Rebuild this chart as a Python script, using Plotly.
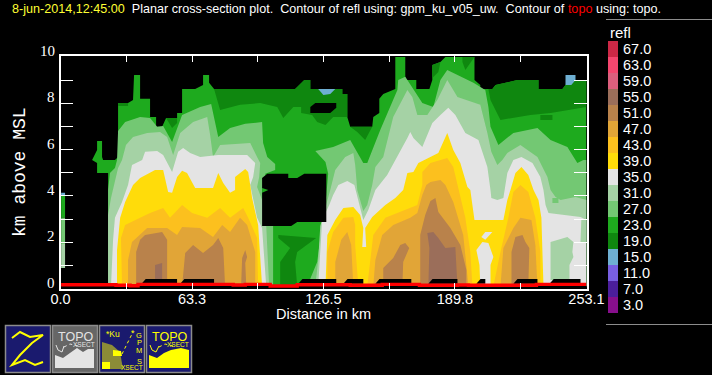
import plotly.graph_objects as go

W, H = 712, 375
LEVELS = ["3.0","7.0","11.0","15.0","19.0","23.0","27.0","31.0","35.0","39.0","43.0","47.0","51.0","55.0","59.0","63.0","67.0"]
COLORS = ["#870F8C","#4B1E9B","#785FE1","#6EAFD2","#0F870F","#1EAA1E","#73C873","#A5D2A5","#E4E4E4","#FFDC0A","#FCC01E","#E1A537","#B9824B","#9B6E5A","#DC5F7D","#F5466E","#CD2846"]
C = dict(zip(LEVELS, COLORS))
BLACK = "#000000"

# contour outlines of refl: distance (km), height (km MSL)
env_d = [22.9,22.9,17.6,17.6,15.2,17.6,17.6,20,20,20.5,26.2,27.7,27.7,32.5,34.9,35.4,38.3,38.3,43.1,43.1,46,46,48.9,50.8,56.1,56.1,58.5,58.5,64.8,68.6,68.6,71.5,71.5,73.9,112.9,117.3,120.2,120.2,135.6,135.6,138,138,139.4,150,150.5,153.4,153.4,155.3,161.1,161.1,165.9,165.9,171.2,171.2,177.5,178.9,178.9,182.8,185.2,199.2,199.2,202,202,207.8,209.3,219.8,230,230,241.5,243,246.8,253.1,253.1]
env_h = [0.1,4.99,4.99,5.42,5.55,5.98,6.37,6.37,5.68,5.55,5.55,5.68,8.01,8.01,8.14,9.22,9.22,8.19,8.19,7.41,7.41,6.98,6.98,7.36,7.36,7.58,7.58,8.62,8.62,8.79,9.22,9.22,8.88,8.62,8.62,9,9,8.62,8.62,8.4,8.4,7.41,6.98,6.98,7.41,7.58,8.19,8.4,8.62,10,10,9,9,8.62,8.62,9,9.65,9.78,10,10,9,8.79,8.62,8.62,8.79,9,9,8.62,8.62,8.79,9,9,0.1]

d19a_d = [73.9,112.9,117.3,120.2,120.2,135.6,135.6,138,138,131.2,127.5,123.5,121.1,115.8,115.8,112,107.2,104.3,96.1,86.4,76.8]
d19a_h = [8.62,8.62,9,9,8.62,8.62,8.4,8.4,7.41,7.41,7.06,7.19,7.49,7.58,7.84,7.84,7.36,7.84,8.01,7.93,7.71]
d19b_d = [139.4,150,146.6,142.8]
d19b_h = [6.98,6.98,6.41,6.76]
d19c_d = [50.8,56.1,56.1,53.7]
d19c_h = [7.36,7.36,7.15,6.93]
d19d_d = [27.7,32.5,32.5,27.7]
d19d_h = [8.01,8.01,7.88,7.88]
d19e_d = [178.9,182.8,181.8,178.9]
d19e_h = [9.65,9.78,9.35,9.09]
d19f_d = [193.4,199.2,194.8,193.4]
d19f_h = [10,10,9.44,9.78]
d19g_d = [205.9,207.8,209.3,219.8,230,230,241.5,243,246.8,253.1,253.1,235.8,226.1,211.7,206.9]
d19g_h = [8.62,8.62,8.79,9,9,8.62,8.62,8.79,9,9,7.84,7.58,7.49,7.28,8.14]
d19h_d = [230.9,236.7,236.7,230.9]
d19h_h = [7.49,7.49,7.28,7.28]
d19i_d = [104.8,123,113.9,112.9,113.9,105.7,105.7,110.5,104.8]
d19i_h = [2.31,2.18,1.58,1.14,0.1,0.1,1.14,1.75,2.18]

d15a_d = [124,132.2,129.8,126.5]
d15a_h = [8.62,8.62,8.4,8.36]
d15b_d = [243,247.8,247.8,245.8,243]
d15b_h = [9.22,9.22,9,8.79,8.79]

d27_d = [22.9,22.9,23.8,26.2,27.2,27.7,31.1,38.3,43.1,46.5,49.4,53.7,58.5,67.2,72.5,73.4,75.9,81.6,88.9,97,97.5,99.5,103.3,103.3,98.5,102.3,102.3,118.7,123.5,125.9,127.9,128.8,127.5,122.6,131.2,139.4,145.7,147.6,153.9,162.1,162.5,165.9,169.8,174.1,179.4,182.8,186.1,191,198.7,204.4,205.9,206.9,210.7,217.9,229.5,235.8,243.9,248.7,251.6,253.1,253.1]
d27_h = [0.1,4.25,4.99,5.2,5.55,6.8,7.19,7.41,7.36,6.98,7.02,6.33,7.49,7.84,7.97,7.58,6.54,6.93,7.11,7.19,6.28,5.68,5.38,5.12,4.95,2.7,0.1,0.1,1.14,2.74,4.04,4.95,5.46,5.94,6.11,6.41,5.42,5.42,6.85,8.57,9,9.14,8.62,8.01,7.84,9,9.44,9.22,8.88,8.57,7.84,6.98,6.2,6.72,6.93,6.41,6.11,5.42,5.55,5.55,0.1]

d31a_d = [22.9,22.9,24.3,26.2,27.7,29.6,31.5,34.9,41.7,47.9,51.3,54.2,57.6,63.8,70.6,72,73.4,76.8,91.3,94.6,96.1,95.6,94.6,97,99,100.4]
d31a_h = [0.1,3.17,3.91,4.6,5.2,5.55,6.2,6.54,6.72,6.76,6.54,5.77,6.72,7.19,7.41,6.63,5.68,6.2,6.28,5.68,5.42,4.82,4.38,3.82,2.7,0.1]
d31b_d = [122.6,124,125,127.9,129.8,132.2,137,140.9,141.8,142.8,144.7,145.7,147.6,150,151.5,155.3,160.1,166.9,169.3,171.7,176.5,181.3,186.1,191,202,205.4,207.3,210.2,212.6,215,221.3,229.5,234.3,235.8,238.2,240.6,247.8,253.1,253.1]
d31b_h = [0.1,1.23,2.7,3.61,4.25,5.12,5.68,5.85,5.33,4.25,3.61,3.35,3.61,4.47,5.25,5.68,7.41,8.57,8.27,7.49,7.49,8.14,9,8.27,7.93,6.72,5.9,5.33,5.55,5.85,6.2,5.68,4.82,4.25,3.95,3.82,3.95,3.82,0.1]
d27p_d = [236.7,239.6,239.6,236.7]
d27p_h = [3.91,3.91,3.69,3.69]

d35a_d = [24.3,25.3,26.2,29.6,32.5,34.4,39.3,40.7,46.5,49.4,53.7,56.6,59,62.4,67.2,75.9,89.8,93.7,92.7,91.3,94.6,97,99]
d35a_h = [0.1,2.1,3.05,3.74,4.47,5.33,5.55,5.9,5.94,5.77,5.03,5.9,6.07,5.85,5.68,5.77,5.77,5.42,4.82,4.47,3.05,2.61,0.1]
d35b_d = [124,125.9,129.3,131.2,133.7,138,141.4,143.3,144.7,145.7,148.1,151.5,157.2,162.1,166.9,168.3,169.8,174.1,178.9,182.8,186.6,190,194.8,201.1,205.4,206.9,207.3,210.2,213.1,215,217.9,221.8,227.1,230.9,232.4,233.4,234.8,250.2,253.1,253.1]
d35b_h = [0.1,2.96,3.61,4.04,4.47,4.64,4.47,3.82,3.3,2.96,3.39,4.25,4.9,5.68,6.5,6.76,6.5,6.11,7.15,7.49,7.8,7.49,6.72,6.41,5.25,4.25,3.91,3.82,3.91,4.99,5.55,5.68,5.42,4.82,4.25,3.61,3.26,3.09,2.96,0.1]
d31c_d = [235.8,239.1,243.9,246.8,246.3,246.8,244.9,244.9,235.8]
d31c_h = [2.01,2.1,2.22,2.01,1.58,1.36,1.02,0.37,0.37]
d31d_d = [250.6,253.1,253.1,250.2]
d31d_h = [2.96,2.96,2.01,2.01]

d39a_d = [27.2,27.2,28.7,31.1,34.9,38.3,45.5,49.4,51.8,53.7,56.1,58.5,60.9,64.8,73.4,75.9,78.3,81.6,84,84,88.9,90.3,91.3,92.2,95.1,97]
d39a_h = [0.1,1.66,3.05,3.74,4.47,4.77,5.12,5.12,4.17,4.13,4.82,5.08,4.99,4.34,4.34,4.99,4.56,4.13,4.25,4.82,5.16,5.03,4.47,3.91,2.74,0.1]
d39b_d = [127.5,128.4,132.2,136.1,140.9,144.2,145.7,146.6,150,156.3,161.1,164.9,166.9,169.8,172.2,177,181.8,186.1,189,192.4,195.8,197.2,199.2,213.1,215,216.5,218.9,221.8,225.1,227.6,230,231.4,232.4]
d39b_h = [0.1,2.31,2.96,3.48,3.52,3.17,2.61,2.61,3.09,3.61,3.91,4.25,4.99,5.03,5.42,5.64,5.85,6.72,5.98,5.42,4.38,4.25,2.96,2.96,3.82,4.25,4.99,5.25,4.9,4.25,3.82,3.05,0.1]
d35c_d = [204.4,207.8,204.4,202.5]
d35c_h = [2.44,2.44,2.1,2.22]
d35d_d = [203,205.9,208.3,206.9,206.9,202,201.6,200.1]
d35d_h = [2.01,1.97,1.36,1.02,0.1,0.1,1.02,1.66]
d35e_d = [145.7,146.6,147.1,145.2]
d35e_h = [2.61,2.61,1.79,1.79]

d43a_d = [29.6,29.1,31.1,34.4,38.3,43.1,49.4,52.7,58.5,63.3,70.6,76.8,81.6,87.9,90.3,94.6,95.1]
d43a_h = [0.1,2.18,2.74,2.87,3.05,3.26,3.48,3.05,3.61,3.26,3.05,3.48,3.05,3.48,3.05,2.18,0.1]
d43b_d = [128.4,128.4,131.2,136.1,140.9,141.8,141.8,143.3,147.6,149.1,150.5,156.3,163.5,171.7,174.1,174.1,178,186.1,189,191.4,194.8,197.2,198.2]
d43b_h = [0.1,1.58,2.44,3.05,3.09,2.74,1.88,0.1,0.1,1.23,2.31,3.05,3.3,3.61,4.47,5.03,5.42,5.64,5.25,4.38,3.05,1.58,0.1]
d43c_d = [208.3,211.7,215.5,217.9,221.3,225.1,228.5,230.9,230.9]
d43c_h = [0.1,1.58,3.05,4.17,4.47,4.17,3.05,1.58,0.1]

d47a_d = [32.5,32.5,34.4,41.7,51.3,56.1,58.5,67.2,73.4,77.8,81.6,86.4,89.8,93.7,93.7]
d47a_h = [0.1,1.23,2.01,2.61,2.61,2.31,2.66,2.61,2.22,2.74,2.44,3.05,2.74,1.58,0.1]
d47b_d = [132.2,132.2,135.1,138,139.9,140.9]
d47b_h = [0.1,1.14,2.1,2.44,1.88,0.1]
d47c_d = [150.5,151.5,154.8,160.1,168.3,171.7,174.1,176,178,182.8,185.2,189,193.8,196.3]
d47c_h = [0.1,1.23,2.31,2.74,3.05,3.26,4.04,4.47,4.6,4.69,4.47,3.74,2.31,0.1]
d47d_d = [211.7,213.1,217.9,221.3,226.6,228.5,229.5]
d47d_h = [0.1,1.75,2.61,3.05,2.96,1.88,0.1]

d51a_d = [36.4,36.4,38.3,40.7,48.9,51.3,51.3]
d51a_h = [0.1,1.58,2.1,2.31,2.44,2.1,0.1]
d51b_d = [58.5,60,63.8,68.6,73.4,75.9,78.3,79.2]
d51b_h = [0.1,1.53,1.88,1.53,1.88,2.18,1.75,0.1]
d51c_d = [86.9,87.4,88.9,89.8,88.9,89.4]
d51c_h = [0.1,1.32,1.66,1.36,1.1,0.1]
d51d_d = [155.3,155.3,160.1,163.5,165.9,167.8,164.9,164.5]
d51d_h = [0.1,0.89,1.32,1.88,1.97,1.75,1.14,0.1]
d51e_d = [173.1,173.1,175.5,178,180.4,181.8,187.6,192.4,195.3,195.3]
d51e_h = [0.1,2.31,3.17,3.78,3.91,3.3,2.61,1.88,0.8,0.1]
d51f_d = [217,217,218.9,222.3,223.7,225.6,225.1]
d51f_h = [0.1,1.58,2.22,2.31,2.01,1.75,0.1]

d55a_d = [45.5,45.5,48.9,48.9]
d55a_h = [0.1,1.02,1.1,0.1]
d55b_d = [177,177.5,176.5,179.4,181.8,185.2,190,191]
d55b_h = [0.1,1.75,2.4,2.44,2.18,1.75,1.79,0.1]

# missing-data regions
gap1_d = [97,99.5,109.6,109.6,113.9,117.3,127.9,127.9,113.9,111,97]
gap1_h = [4.77,4.95,4.95,4.77,4.77,4.95,4.95,2.87,2.87,2.7,2.7]
gap2_d = [120.2,122.6,132.7,132.7,129.8,120.2]
gap2_h = [7.84,8.01,8.01,7.8,7.58,7.58]
surface_gap_start = [39.0,57.6,114.4,136.1,151.5,177,200.1,217.9,235.3]
surface_gap_end = [56.1,73.9,132.7,145.7,168.8,191,204.4,229.5,250.2]
surface_gap_height = [0.41,0.41,0.41,0.41,0.41,0.41,0.41,0.41,0.41]
speck_d = [97,100,97]
speck_h = [4.34,4.25,4.13]

# strip at left edge
strip_level = ["15.0","23.0","27.0","31.0"]
strip_top = [4.13,4.04,3.05,1.92]
strip_bottom = [4.04,3.05,1.92,0.89]
strip_end_km = 2.2

# topography
topo_d = [0.3,26.7,33.5,37.3,83.1,88.9,100.9,113.9,139.4,154.8,172.7,191,196.3,229,253.1]
topo_h = [0.16,0.14,0.12,0.18,0.15,0.18,0.11,0.16,0.14,0.18,0.14,0.15,0.14,0.18,0.18]

x_tick_vals = [0,31.64,63.3,94.9,126.5,158.2,189.8,221.5,253.1]
x_tick_text = ["0.0","","63.3","","126.5","","189.8","","253.1"]
y_tick_vals = [1,2,3,4,5,6,7,8,9]
y_labels = [0,2,4,6,8,10]

layers = [
    ("23.0", env_d, env_h),
    ("19.0", d19a_d, d19a_h), ("19.0", d19b_d, d19b_h), ("19.0", d19c_d, d19c_h),
    ("19.0", d19d_d, d19d_h), ("19.0", d19e_d, d19e_h), ("19.0", d19f_d, d19f_h),
    ("19.0", d19g_d, d19g_h), ("19.0", d19h_d, d19h_h), ("19.0", d19i_d, d19i_h),
    ("15.0", d15a_d, d15a_h), ("15.0", d15b_d, d15b_h),
    ("27.0", d27_d, d27_h),
    ("31.0", d31a_d, d31a_h), ("31.0", d31b_d, d31b_h),
    ("27.0", d27p_d, d27p_h),
    ("35.0", d35a_d, d35a_h), ("35.0", d35b_d, d35b_h),
    ("31.0", d31c_d, d31c_h), ("31.0", d31d_d, d31d_h),
    ("39.0", d39a_d, d39a_h), ("39.0", d39b_d, d39b_h),
    ("35.0", d35c_d, d35c_h), ("35.0", d35d_d, d35d_h), ("35.0", d35e_d, d35e_h),
    ("43.0", d43a_d, d43a_h), ("43.0", d43b_d, d43b_h), ("43.0", d43c_d, d43c_h),
    ("47.0", d47a_d, d47a_h), ("47.0", d47b_d, d47b_h), ("47.0", d47c_d, d47c_h), ("47.0", d47d_d, d47d_h),
    ("51.0", d51a_d, d51a_h), ("51.0", d51b_d, d51b_h), ("51.0", d51c_d, d51c_h),
    ("51.0", d51d_d, d51d_h), ("51.0", d51e_d, d51e_h), ("51.0", d51f_d, d51f_h),
    ("55.0", d55a_d, d55a_h), ("55.0", d55b_d, d55b_h),
]

fig = go.Figure()

def poly(d, h, color):
    fig.add_trace(go.Scatter(x=list(d) + [d[0]], y=list(h) + [h[0]], mode="lines", fill="toself",
                             fillcolor=color, line=dict(width=0, color=color), hoverinfo="skip",
                             showlegend=False))

for lev, d, h in layers:
    poly(d, h, C[lev])
poly(gap1_d, gap1_h, BLACK)
poly(gap2_d, gap2_h, BLACK)
poly(speck_d, speck_h, C["23.0"])
for s, e, t in zip(surface_gap_start, surface_gap_end, surface_gap_height):
    poly([s, s + 2.0, e, e], [0.2, t, t, 0.2], BLACK)
poly([0, 253.1, 253.1, 0], [0, 0, 0.12, 0.12], BLACK)
for lev, t, b in zip(strip_level, strip_top, strip_bottom):
    poly([0.3, strip_end_km, strip_end_km, 0.3], [t, t, b, b], C[lev])

fig.add_trace(go.Scatter(x=topo_d, y=topo_h, mode="lines", line=dict(color="#FF0000", width=3.4, shape="hv"),
                         hoverinfo="skip", showlegend=False))

# colour key
fig.add_trace(go.Bar(x=[1] * len(LEVELS), y=LEVELS, orientation="h", marker=dict(color=COLORS, line=dict(width=0)),
                     width=1, xaxis="x3", yaxis="y3", hoverinfo="skip", showlegend=False))

def px(x):
    return x / W

def py(y):
    return 1 - y / H

TXT = "Liberation Sans"
fig.update_layout(
    width=W, height=H, margin=dict(l=0, r=0, t=0, b=0, pad=0, autoexpand=False), autosize=False,
    paper_bgcolor="black", plot_bgcolor="black", bargap=0, showlegend=False,
    font=dict(family=TXT, color="white", size=14),
    xaxis=dict(domain=[px(60.5), px(586.5)], range=[0, 253.1], tickmode="array", tickvals=x_tick_vals,
               ticktext=x_tick_text, ticks="inside", ticklen=6, tickcolor="white", tickwidth=1,
               showline=True, linecolor="white", linewidth=1.5, mirror="ticks", showgrid=False, zeroline=False,
               tickfont=dict(size=14.5, color="white"), ticklabelstandoff=-4, fixedrange=True),
    yaxis=dict(domain=[py(288.5), py(56)], range=[0, 10.04], tickmode="array", tickvals=y_tick_vals,
               ticktext=[""] * len(y_tick_vals), ticks="inside", ticklen=13, tickcolor="white", tickwidth=1,
               showline=True, linecolor="white", linewidth=1.5, mirror="ticks", showgrid=False, zeroline=False,
               fixedrange=True),
    xaxis3=dict(domain=[px(608), px(618)], range=[0, 1], anchor="y3", visible=False, fixedrange=True),
    yaxis3=dict(domain=[py(313), py(41)], type="category", categoryorder="array", categoryarray=LEVELS,
                tickmode="array", tickvals=LEVELS, ticktext=LEVELS,
                anchor="x3", side="right", ticks="", showline=False, showgrid=False, zeroline=False,
                tickfont=dict(size=14.5, color="white"), ticklabelstandoff=4, fixedrange=True),
)

ann = []
for v in y_labels:
    ann.append(dict(x=px(56.5), xref="paper", xanchor="right", y=v, yref="y", yshift=6, yanchor="middle",
                    text=str(v), showarrow=False, font=dict(size=15, color="white", family="Liberation Sans Narrow")))

def label(x, y, text, size, color="white", family=TXT, xanchor="center", **kw):
    ann.append(dict(x=px(x), y=py(y), xref="paper", yref="paper", xanchor=xanchor, yanchor="middle", text=text,
                    showarrow=False, font=dict(size=size, color=color, family=family), **kw))

label(10, 9, "<span style='color:#FFFF33'>8-jun-2014,12:45:00</span>  Planar cross-section plot.  Contour of refl using: gpm_ku_v05_uw.  Contour of <span style='color:#FF0000'>topo</span> using: topo.", 12.6, xanchor="left")
label(323, 314, "Distance in km", 14.5)
label(20, 172, "km above MSL", 18, family="Liberation Mono", textangle=-90)
label(608, 32, "refl", 15, xanchor="left")

shapes = []
for yy in (19.5, 324.5):
    shapes.append(dict(type="line", xref="paper", yref="paper", x0=px(606), x1=px(712), y0=py(yy), y1=py(yy),
                       line=dict(color="#8C8C8C", width=1)))

NAVY = "#1A1A6E"
YEL = "#FFFF00"

def rect(x0, x1, fill):
    shapes.append(dict(type="rect", xref="paper", yref="paper", x0=px(x0), x1=px(x1), y0=py(325.5), y1=py(372.5),
                       fillcolor=fill, line=dict(color="#8C8C8C", width=1.5)))

def path(pts, fill=None, line=None, lw=1.5, dash=None):
    s = "M " + " L ".join(f"{px(a):.5f},{py(b):.5f}" for a, b in pts)
    if fill:
        s += " Z"
    ln = dict(color=line or "rgba(0,0,0,0)", width=lw if line else 0)
    if dash:
        ln["dash"] = dash
    shapes.append(dict(type="path", xref="paper", yref="paper", path=s, fillcolor=fill or "rgba(0,0,0,0)", line=ln))

rect(5.5, 50.5, NAVY)
rect(52.5, 97.5, "#666666")
rect(99.5, 144.5, NAVY)
rect(146.5, 191.5, NAVY)
path([(12, 338), (20, 332), (30, 337), (43, 335), (32, 343), (20, 355), (12, 365), (25, 360), (35, 365), (43, 362)], line=YEL, lw=2)

mount2 = [(55, 368), (55, 355), (63, 358), (70, 353), (77, 348), (83, 352), (88, 349), (94, 349), (94, 368)]
path(mount2, fill="#E4E4E4")
path([(56, 345), (58, 350), (62, 352), (64, 346)], line="#E4E4E4", lw=1)
path([(64, 347), (70, 344), (78, 346)], line="#E4E4E4", lw=1, dash="dot")
mount4 = [(149, 368), (149, 355), (157, 358), (164, 353), (171, 350), (176, 349), (181, 348), (189, 350), (189, 368)]
path(mount4, fill=YEL)
path([(150, 345), (152, 350), (156, 352), (159, 346)], line=YEL, lw=1)
path([(159, 347), (165, 344), (173, 346)], line=YEL, lw=1, dash="dot")
# dithered globe and satellite track of the Ku icon
path([(102, 369), (102, 342), (112, 345), (120, 352), (123, 369)], fill="#8C8C37")
path([(102, 369), (102, 362), (110, 362), (110, 369)], fill=YEL)
path([(113, 356), (113, 350), (121, 351), (122, 356)], fill=YEL)
path([(122, 354), (128, 342), (133, 332)], line=YEL, lw=1, dash="dot")
label(133, 333, "*", 9, color=YEL)

for x0, col in ((75, "#E4E4E4"), (169, YEL)):
    label(x0, 337, "TOPO", 12.5, color=col)
    label(x0 + 9, 344, "XSECT", 6.5, color=col)
label(113, 334, "*Ku", 8.5, color=YEL)
label(132, 367, "XSECT", 6.5, color=YEL)
for t, yy in zip("GPMS", (335, 342, 350, 361)):
    label(139, yy, t, 7.5, color=YEL)

fig.update_layout(annotations=ann, shapes=shapes)
fig.write_html("out.html", config={"displayModeBar": False},
               post_script="document.body.style.margin='0';document.body.style.background='black';")
